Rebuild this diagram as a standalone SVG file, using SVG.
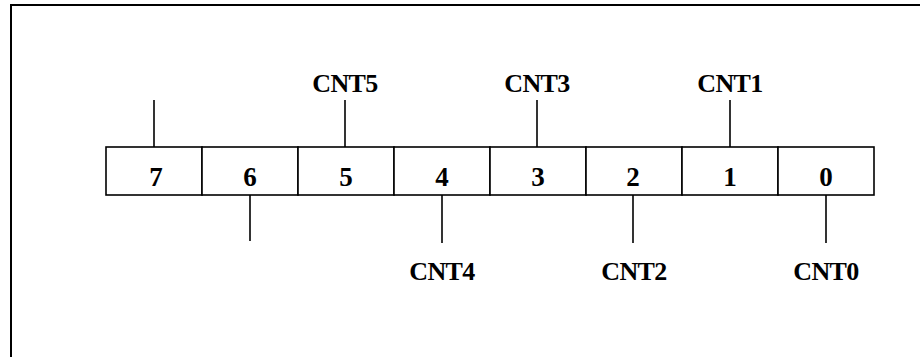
<svg xmlns="http://www.w3.org/2000/svg" width="920" height="357" viewBox="0 0 920 357">
  <style>
    .frame { fill: none; stroke: #000; stroke-width: 2; }
    .cell { fill: #fff; stroke: #000; stroke-width: 1.6; }
    .wire { stroke: #000; stroke-width: 1.6; fill: none; }
    .bit { font-family: "Liberation Serif", "Times New Roman", serif; font-weight: bold; font-size: 27px; text-anchor: middle; fill: #000; }
    .sig { font-family: "Liberation Serif", "Times New Roman", serif; font-weight: bold; font-size: 26px; text-anchor: middle; fill: #000; letter-spacing: -0.6px; }
  </style>
  <rect width="920" height="357" fill="#fff"/>
  <!-- outer frame: top and left edges only -->
  <path class="frame" d="M11,357 V5 H920"/>

  <!-- connector leads from register bits to signal names -->
  <g id="connectors">
    <line class="wire" x1="154" y1="100" x2="154" y2="147"/>
    <line class="wire" x1="345" y1="100" x2="345" y2="147"/>
    <line class="wire" x1="537" y1="100" x2="537" y2="147"/>
    <line class="wire" x1="730" y1="100" x2="730" y2="147"/>
    <line class="wire" x1="250" y1="195" x2="250" y2="241"/>
    <line class="wire" x1="442" y1="195" x2="442" y2="243"/>
    <line class="wire" x1="633" y1="195" x2="633" y2="243"/>
    <line class="wire" x1="826" y1="195" x2="826" y2="243"/>
  </g>

  <!-- register bit cells -->
  <g id="bit7"><rect class="cell" x="106" y="147" width="96" height="48"/><text class="bit" x="156" y="186">7</text></g>
  <g id="bit6"><rect class="cell" x="202" y="147" width="96" height="48"/><text class="bit" x="250" y="186">6</text></g>
  <g id="bit5"><rect class="cell" x="298" y="147" width="96" height="48"/><text class="bit" x="346" y="186">5</text></g>
  <g id="bit4"><rect class="cell" x="394" y="147" width="96" height="48"/><text class="bit" x="442" y="186">4</text></g>
  <g id="bit3"><rect class="cell" x="490" y="147" width="96" height="48"/><text class="bit" x="538" y="186">3</text></g>
  <g id="bit2"><rect class="cell" x="586" y="147" width="96" height="48"/><text class="bit" x="633" y="186">2</text></g>
  <g id="bit1"><rect class="cell" x="682" y="147" width="96" height="48"/><text class="bit" x="730" y="186">1</text></g>
  <g id="bit0"><rect class="cell" x="778" y="147" width="96" height="48"/><text class="bit" x="826" y="186">0</text></g>

  <!-- signal names -->
  <g id="cnt5"><text class="sig" x="345" y="92">CNT5</text></g>
  <g id="cnt3"><text class="sig" x="537" y="92">CNT3</text></g>
  <g id="cnt1"><text class="sig" x="730" y="92">CNT1</text></g>
  <g id="cnt4"><text class="sig" x="442" y="280">CNT4</text></g>
  <g id="cnt2"><text class="sig" x="634" y="280">CNT2</text></g>
  <g id="cnt0"><text class="sig" x="826" y="280">CNT0</text></g>
</svg>
